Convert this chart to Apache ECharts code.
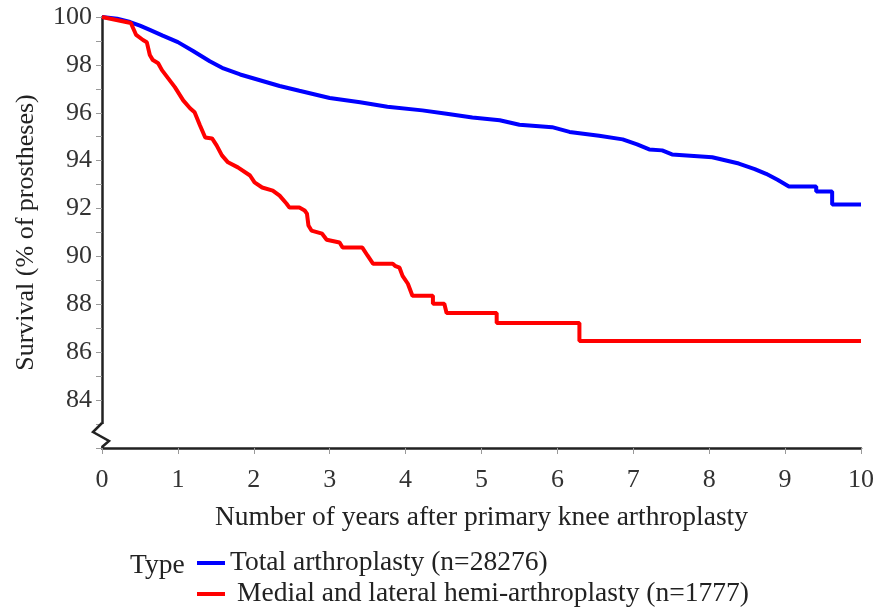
<!DOCTYPE html>
<html>
<head>
<meta charset="utf-8">
<title>Knee arthroplasty survival</title>
<script src="https://cdn.jsdelivr.net/npm/echarts@6.0.0/dist/echarts.min.js"></script>
<style>
  html, body { margin: 0; background: #fff; }
  #chart { width: 877px; height: 608px; }
</style>
</head>
<body>
<div id="chart"></div>
<script>
  // corners of each survival curve: years after surgery, survival (%)
  const totalYears = [0, 0.2, 0.37, 0.5, 0.63, 0.8, 1.0, 1.2, 1.42, 1.6, 1.82, 2.08, 2.34, 2.6, 3.0, 3.4, 3.76,
    4.22, 4.54, 4.88, 5.24, 5.5, 5.93, 6.16, 6.55, 6.86, 7.05, 7.21, 7.38, 7.51, 8.04, 8.39, 8.6, 8.75, 8.9,
    9.05, 9.41, 9.41, 9.62, 9.62, 10.0];
  const totalSurvival = [100, 99.93, 99.79, 99.64, 99.46, 99.22, 98.95, 98.58, 98.15, 97.85, 97.6, 97.36,
    97.12, 96.92, 96.62, 96.44, 96.25, 96.1, 95.96, 95.8, 95.69, 95.5, 95.4, 95.2, 95.04, 94.89, 94.68, 94.47,
    94.43, 94.26, 94.14, 93.88, 93.65, 93.45, 93.2, 92.92, 92.92, 92.71, 92.71, 92.17, 92.17];

  const hemiYears = [0, 0.38, 0.45, 0.54, 0.59, 0.63, 0.67, 0.74, 0.79, 0.86, 0.92, 0.96, 1.07, 1.16, 1.22,
    1.29, 1.36, 1.45, 1.51, 1.58, 1.66, 1.79, 1.95, 2.01, 2.11, 2.25, 2.34, 2.43, 2.47, 2.6, 2.67, 2.7, 2.72,
    2.76, 2.9, 2.96, 3.13, 3.17, 3.43, 3.5, 3.57, 3.83, 3.86, 3.92, 3.96, 4.03, 4.09, 4.36, 4.36, 4.51, 4.54,
    5.2, 5.2, 6.29, 6.29, 10.0];
  const hemiSurvival = [100, 99.75, 99.25, 99.04, 98.95, 98.41, 98.2, 98.07, 97.78, 97.49, 97.24, 97.07,
    96.52, 96.19, 96.02, 95.48, 94.97, 94.93, 94.64, 94.22, 93.93, 93.72, 93.38, 93.09, 92.88, 92.75, 92.54,
    92.21, 92.04, 92.04, 91.92, 91.79, 91.29, 91.08, 90.95, 90.7, 90.58, 90.37, 90.37, 90.03, 89.7, 89.7,
    89.61, 89.53, 89.19, 88.86, 88.36, 88.36, 88.02, 88.02, 87.64, 87.64, 87.22, 87.22, 86.47, 86.47];

  const totalName = 'Total arthroplasty (n=28276)';
  const hemiName = 'Medial and lateral hemi-arthroplasty (n=1777)';

  const font = 'Liberation Serif';
  const fs = 26;
  const fsWide = 27.5;
  const zip = (xs, ys) => xs.map((x, i) => [x, ys[i]]);

  let myChart = echarts.init(document.getElementById('chart'));
  let typeLabel = {
    type: 'text', left: 130, top: 552,
    style: { text: 'Type', fontFamily: font, fontSize: fsWide, fill: '#222' }
  };
  let option = {
    animation: false,
    textStyle: { fontFamily: font },
    grid: { left: 102, right: 15, top: 17, bottom: 160 },
    legend: {
      orient: 'vertical',
      left: 197,
      top: 549,
      height: 90,
      padding: 0,
      itemGap: 3,
      itemWidth: 28,
      itemHeight: 4,
      icon: 'rect',
      textStyle: { fontFamily: font, fontSize: fsWide, color: '#222', padding: 0 },
      data: [
        { name: totalName },
        { name: hemiName, textStyle: { padding: [0, 0, 0, 7] } }
      ]
    },
    xAxis: {
      type: 'value',
      min: 0,
      max: 10,
      interval: 1,
      name: 'Number of years after primary knee arthroplasty',
      nameLocation: 'middle',
      nameGap: 56,
      nameTextStyle: { fontFamily: font, fontSize: fsWide, color: '#222' },
      axisLine: { lineStyle: { color: '#222', width: 2.5 } },
      axisTick: { length: 6, lineStyle: { color: '#999' } },
      axisLabel: { fontFamily: font, fontSize: fs, color: '#333', margin: 19 },
      splitLine: { show: false }
    },
    yAxis: {
      type: 'value',
      min: 82,
      max: 100,
      interval: 2,
      name: 'Survival (% of prostheses)',
      nameLocation: 'middle',
      nameGap: 63,
      nameTextStyle: { fontFamily: font, fontSize: fs, color: '#222' },
      axisLine: { show: true, lineStyle: { color: '#222', width: 2.5 } },
      axisTick: { show: true, length: 6, lineStyle: { color: '#999' } },
      minorTick: { show: true, splitNumber: 2, length: 6, lineStyle: { color: '#999' } },
      axisLabel: {
        fontFamily: font, fontSize: fs, color: '#333', margin: 10, padding: [7, 0, 0, 0],
        formatter: v => (v === 82 ? '' : v)
      },
      splitLine: { show: false }
    },
    graphic: [typeLabel],
    series: [
      {
        name: totalName,
        type: 'line',
        showSymbol: false,
        color: '#0000ff',
        lineStyle: { width: 4, color: '#0000ff' },
        data: zip(totalYears, totalSurvival)
      },
      {
        name: hemiName,
        type: 'line',
        showSymbol: false,
        color: '#ff0000',
        lineStyle: { width: 4, color: '#ff0000' },
        data: zip(hemiYears, hemiSurvival)
      }
    ]
  };
  myChart.setOption(option);

  // axis break mark on the y axis just above the origin
  let p = myChart.convertToPixel({ gridIndex: 0 }, [0, 82]);
  myChart.setOption({
    graphic: [
      typeLabel,
      {
        type: 'rect', z: 100,
        shape: { x: p[0] - 3, y: p[1] - 24, width: 6, height: 22 },
        style: { fill: '#fff' }
      },
      {
        type: 'polyline', z: 101,
        shape: { points: [[p[0], p[1] - 25], [p[0] - 9, p[1] - 16], [p[0] + 7, p[1] - 7], [p[0], p[1] - 1]] },
        style: { stroke: '#222', lineWidth: 2.5, fill: null }
      }
    ]
  });
</script>
</body>
</html>
